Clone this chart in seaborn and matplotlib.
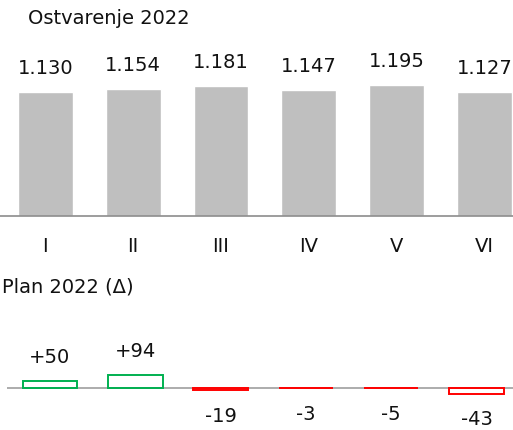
import matplotlib
matplotlib.use("Agg")
import matplotlib.pyplot as plt
import seaborn as sns
import pandas as pd

months = ["I", "II", "III", "IV", "V", "VI"]
actual = [1130, 1154, 1181, 1147, 1195, 1127]
actual_labels = ["1.130", "1.154", "1.181", "1.147", "1.195", "1.127"]
delta = [50, 94, -19, -3, -5, -43]
delta_labels = ["+50", "+94", "-19", "-3", "-5", "-43"]

sns.set_theme(style="white")
plt.rcParams["font.family"] = ["DejaVu Sans"]

W, H = 513, 430
fig = plt.figure(figsize=(W / 100, H / 100), dpi=100)

def fx(px):
    return px / W

def fy(py):
    return 1 - py / H

FS = 14
TC = "#111111"

# ---- top chart ----
top_base, top_top = 215.7, 40
ax1 = fig.add_axes([0, fy(top_base), 1, (top_base - top_top) / H])
df1 = pd.DataFrame({"m": months, "v": actual})
sns.barplot(data=df1, x="m", y="v", color="#bfbfbf", saturation=1, width=0.625, ax=ax1)
sp1 = 87.9
ax1.set_xlim(-45.2 / sp1, (W - 45.2) / sp1)
scale1 = 0.1095
ax1.set_ylim(0, (top_base - top_top) / scale1)
for i, (v, lab) in enumerate(zip(actual, actual_labels)):
    ax1.annotate(lab, (i, v), xytext=(0, 10), textcoords="offset points",
                 ha="center", va="bottom", fontsize=FS, color=TC, clip_on=False)
for s in ["top", "left", "right"]:
    ax1.spines[s].set_visible(False)
ax1.spines["bottom"].set_color("#8c8c8c")
ax1.spines["bottom"].set_linewidth(1.2)
ax1.set_yticks([])
ax1.set_xlabel("")
ax1.set_ylabel("")
ax1.tick_params(axis="x", length=0, pad=15, labelsize=FS, labelcolor=TC)
ax1.patch.set_alpha(0)

fig.text(fx(28), fy(18), "Ostvarenje 2022", fontsize=FS, ha="left", va="center", color=TC)
fig.text(fx(1.5), fy(287), "Plan 2022 (\u0394)", fontsize=FS, ha="left", va="center", color=TC)

# ---- bottom chart ----
bot_base = 387.7
bot_top, bot_bottom = 320, 430
ax2 = fig.add_axes([fx(7.3), 0, 1 - fx(7.3), (bot_bottom - bot_top) / H])
scale2 = 0.14
ax2.set_ylim(-(bot_bottom - bot_base) / scale2, (bot_base - bot_top) / scale2)
sp2 = 85.3
df2 = pd.DataFrame({"m": months, "v": delta,
                    "s": ["pos" if d > 0 else "neg" for d in delta]})
sns.barplot(data=df2, x="m", y="v", hue="s", palette={"pos": "#00b050", "neg": "#ff0000"},
            dodge=False, fill=False, linewidth=1.4, width=0.64, saturation=1,
            legend=False, ax=ax2)
ax2.set_xlim(-0.5, -0.5 + (W - 7.3) / sp2)
ax2.axhline(0, color="#a6a6a6", linewidth=1.3, zorder=0)
for i, (v, lab) in enumerate(zip(delta, delta_labels)):
    if v >= 0:
        ax2.annotate(lab, (i, v), xytext=(0, 10), textcoords="offset points",
                     ha="center", va="bottom", fontsize=FS, color=TC)
    else:
        ax2.annotate(lab, (i, v), xytext=(0, -12), textcoords="offset points",
                     ha="center", va="top", fontsize=FS, color=TC)
for s in ax2.spines.values():
    s.set_visible(False)
ax2.set_xticks([])
ax2.set_yticks([])
ax2.set_xlabel("")
ax2.set_ylabel("")
ax2.patch.set_alpha(0)

fig.savefig("out.png", dpi=100)
